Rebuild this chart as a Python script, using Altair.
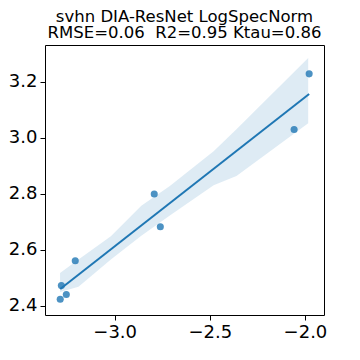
import altair as alt
import pandas as pd

# scatter points
xs = [-3.286, -3.280, -3.254, -3.207, -2.792, -2.760, -2.057, -1.978]
ys = [2.423, 2.472, 2.440, 2.561, 2.799, 2.682, 3.029, 3.228]

# confidence band
band_x = [-3.287, -3.19, -3.02, -2.86, -2.71, -2.48, -2.36, -1.983]
band_hi = [2.517, 2.565, 2.648, 2.757, 2.828, 2.952, 3.03, 3.285]
band_lo = [2.449, 2.468, 2.565, 2.65, 2.722, 2.83, 2.863, 3.052]

x_ticks = [-3.0, -2.5, -2.0]
y_ticks = [2.4, 2.6, 2.8, 3.0, 3.2]

title_lines = ["svhn DIA-ResNet LogSpecNorm", "RMSE=0.06\u00a0\u00a0R2=0.95 Ktau=0.86"]

pts = pd.DataFrame({"x": xs, "y": ys})
band = pd.DataFrame({"x": band_x, "hi": band_hi, "lo": band_lo})

blue = "#1f77b4"
xsc = alt.Scale(domain=[-3.366, -1.90], nice=False, zero=False)
ysc = alt.Scale(domain=[2.367, 3.331], nice=False, zero=False)

xaxis = alt.Axis(values=x_ticks, format=".1f", title=None, grid=False, domain=False,
                 tickSize=5, tickColor="black", labelFontSize=18, labelColor="black",
                 labelFont="DejaVu Sans", labelPadding=3)
yaxis = alt.Axis(values=y_ticks, format=".1f", title=None, grid=False, domain=False,
                 tickSize=5, tickColor="black", labelFontSize=18, labelColor="black",
                 labelFont="DejaVu Sans", labelPadding=3)

band_layer = alt.Chart(band).mark_area(color=blue, opacity=0.15).encode(
    x=alt.X("x:Q", scale=xsc, axis=xaxis),
    y=alt.Y("lo:Q", scale=ysc, axis=yaxis),
    y2="hi:Q",
)

line_layer = alt.Chart(pts).transform_regression(
    "x", "y", extent=[-3.286, -1.978]
).mark_line(color=blue, strokeWidth=2).encode(
    x=alt.X("x:Q", scale=xsc),
    y=alt.Y("y:Q", scale=ysc),
)

pt_layer = alt.Chart(pts).mark_circle(color=blue, opacity=0.8, size=50).encode(
    x=alt.X("x:Q", scale=xsc),
    y=alt.Y("y:Q", scale=ysc),
)


def title_text(line, ypos):
    return alt.Chart(pd.DataFrame({"t": [line]})).mark_text(
        font="DejaVu Sans", fontSize=16.5, color="black", align="center",
        baseline="alphabetic"
    ).encode(text="t:N", x=alt.value(139.5), y=alt.value(ypos))


chart = alt.layer(
    band_layer, line_layer, pt_layer,
    title_text(title_lines[0], -23), title_text(title_lines[1], -7),
).properties(
    width=279, height=270,
    autosize=alt.AutoSizeParams(type="none"),
    padding={"left": 37, "top": 37, "right": 28, "bottom": 37},
).configure_view(stroke="black", strokeWidth=1)

chart.save("out.html", embed_options={"renderer": "svg", "actions": False})
